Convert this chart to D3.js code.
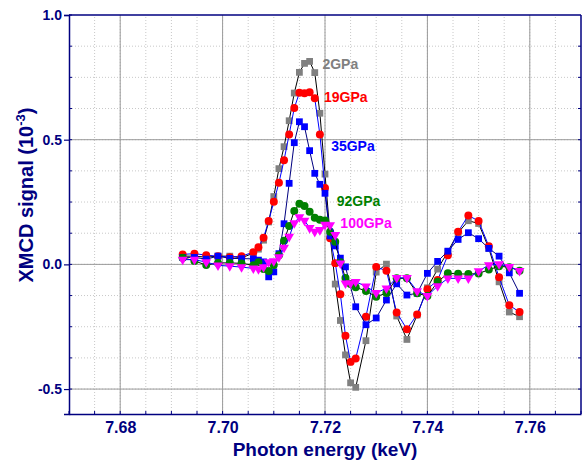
<!DOCTYPE html>
<html>
<head>
<meta charset="utf-8">
<script src="https://cdn.jsdelivr.net/npm/d3@7"></script>
<style>
body { margin: 0; background: #fff; }
text { font-family: Arial, "Liberation Sans", sans-serif; font-weight: bold; }
</style>
</head>
<body>
<div id="chart"></div>
<script>
/* DATA: photon energy (keV) and XMCD signal (10^-3) per pressure */
const energy = [7.6922, 7.6945, 7.6968, 7.6991, 7.7014, 7.7037,
  7.706, 7.707, 7.708, 7.709, 7.710, 7.711, 7.712, 7.713, 7.714, 7.715, 7.716,
  7.717, 7.718, 7.719, 7.720, 7.721, 7.722, 7.723, 7.724, 7.725, 7.726,
  7.728, 7.730, 7.732, 7.734, 7.736, 7.738, 7.740, 7.742, 7.744, 7.746,
  7.748, 7.750, 7.752, 7.754, 7.756, 7.758];

const gpa2 = [0.033, 0.033, 0.029, 0.033, 0.033, 0.026,
  0.045, 0.061, 0.097, 0.170, 0.272, 0.384, 0.472, 0.576, 0.687, 0.770, 0.806,
  0.814, 0.769, 0.606, 0.362, 0.116, -0.079, -0.225, -0.363, -0.475, -0.493,
  -0.306, -0.031, 0.001, -0.207, -0.301, -0.203, -0.094, -0.019, 0.051, 0.127,
  0.175, 0.164, 0.064, -0.070, -0.191, -0.210];

const gpa19 = [0.040, 0.043, 0.037, 0.033, 0.029, 0.033,
  0.049, 0.069, 0.107, 0.174, 0.251, 0.327, 0.418, 0.521, 0.627, 0.688, 0.686,
  0.690, 0.666, 0.521, 0.306, 0.105, 0.005, -0.120, -0.286, -0.391, -0.377,
  -0.210, -0.010, -0.026, -0.193, -0.260, -0.201, -0.100, -0.063, 0.037, 0.131,
  0.196, 0.174, 0.073, -0.052, -0.164, -0.191];

const gpa35 = [0.028, 0.028, 0.021, 0.033, 0.024, 0.023,
  0.022, 0.017, 0.010, -0.050, -0.030, 0.043, 0.163, 0.325, 0.488, 0.572, 0.552,
  0.456, 0.365, 0.321, 0.285, 0.114, 0.074, 0.025, -0.010, null, -0.170,
  -0.242, -0.215, -0.143, -0.078, -0.123, -0.116, -0.036, 0.012, 0.053, 0.100,
  0.127, 0.103, 0.064, 0.033, -0.034, -0.116];

const gpa92 = [0.027, 0.014, -0.003, 0.006, 0.006, 0.004,
  -0.003, 0.009, -0.019, -0.027, -0.003, 0.037, 0.095, 0.154, 0.214, 0.243, 0.234,
  0.211, 0.187, 0.179, 0.176, 0.131, 0.091, 0.009, -0.055, -0.079, -0.092,
  -0.107, -0.130, -0.115, -0.056, -0.056, -0.116, -0.127, -0.070, -0.036, -0.038,
  -0.039, -0.037, -0.021, -0.008, -0.011, -0.026];

const gpa100 = [0.019, 0.019, 0.009, -0.004, -0.007, -0.011,
  -0.016, -0.019, -0.011, 0.009, 0.013, 0.029, 0.067, 0.111, 0.166, 0.190, 0.176,
  0.146, 0.131, 0.138, 0.160, 0.158, 0.118, 0.004, -0.076, -0.076, -0.070,
  -0.088, -0.114, -0.096, -0.054, -0.054, -0.107, -0.126, -0.087, -0.056, -0.056,
  -0.056, -0.027, -0.003, 0.001, -0.010, -0.026];

const seriesNames = ["2GPa", "19GPa", "35GPa", "92GPa", "100GPa"];
const seriesValues = [gpa2, gpa19, gpa35, gpa92, gpa100];
const labelEnergy = [7.7195, 7.7198, 7.7212, 7.7223, 7.7230];
const labelValue = [0.783, 0.651, 0.454, 0.234, 0.146];

const xTicks = [7.68, 7.70, 7.72, 7.74, 7.76];
const yTicks = [-0.5, 0.0, 0.5, 1.0];

/* STYLES */
const markerColor = ["#808080", "#ff0000", "#0000ff", "#008000", "#ff00ff"];
const lineColor = ["#000000", "#0000ff", "#000080", "#000000", "#0000ff"];
const markerShape = [d3.symbolSquare, d3.symbolCircle, d3.symbolSquare, d3.symbolCircle, d3.symbolTriangle];
const markerSize = [46, 50, 46, 50, 42];
const navy = "#000080";

/* CANVAS */
const width = 584;
const height = 460;

const svg = d3.select("#chart")
    .append("svg")
    .attr("width", width)
    .attr("height", height);

const x = d3.scaleLinear().domain([7.67, 7.77]).range([69, 581]);
const y = d3.scaleLinear().domain([-0.6, 1.0]).range([414, 15]);

/* GRID */
const xMinor = d3.range(1, 20).map(i => 7.67 + i * 0.005);
const yMinor = d3.range(-4, 8).map(i => i * 0.125);

svg.append("g").selectAll("line")
    .data(xMinor)
    .join("line")
    .attr("x1", d => x(d)).attr("x2", d => x(d))
    .attr("y1", y(-0.6)).attr("y2", y(1.0))
    .attr("stroke", "#c8c8c8")
    .attr("stroke-dasharray", "1,2");

svg.append("g").selectAll("line")
    .data(yMinor)
    .join("line")
    .attr("x1", x(7.67)).attr("x2", x(7.77))
    .attr("y1", d => y(d)).attr("y2", d => y(d))
    .attr("stroke", "#c8c8c8")
    .attr("stroke-dasharray", "1,2");

svg.append("g").selectAll("line")
    .data(xTicks)
    .join("line")
    .attr("x1", d => x(d)).attr("x2", d => x(d))
    .attr("y1", y(-0.6)).attr("y2", y(1.0))
    .attr("stroke", "#9a9a9a");

svg.append("g").selectAll("line")
    .data(yTicks.slice(0, 3))
    .join("line")
    .attr("x1", x(7.67)).attr("x2", x(7.77))
    .attr("y1", d => y(d)).attr("y2", d => y(d))
    .attr("stroke", "#9a9a9a");

/* SERIES */
seriesValues.forEach(function(vals, k) {
    const pts = energy.map((e, i) => [e, vals[i]]).filter(p => p[1] !== null);

    svg.append("path")
        .datum(pts)
        .attr("fill", "none")
        .attr("stroke", lineColor[k])
        .attr("stroke-width", 1)
        .attr("d", d3.line().x(p => x(p[0])).y(p => y(p[1])));

    svg.append("g").selectAll("path")
        .data(pts)
        .join("path")
        .attr("transform", p => `translate(${x(p[0])},${y(p[1])})` + (k === 4 ? " rotate(180)" : ""))
        .attr("d", d3.symbol().type(markerShape[k]).size(markerSize[k]))
        .attr("fill", markerColor[k]);
});

/* SERIES LABELS */
svg.append("g").selectAll("text")
    .data(seriesNames)
    .join("text")
    .attr("x", (d, i) => x(labelEnergy[i]))
    .attr("y", (d, i) => y(labelValue[i]))
    .attr("fill", (d, i) => markerColor[i])
    .attr("font-size", 14)
    .text(d => d);

/* AXES */
const xAxis = svg.append("g")
    .attr("transform", `translate(0,${y(-0.6)})`)
    .call(d3.axisBottom(x).tickValues(xTicks).tickFormat(d => d.toFixed(2)).tickSize(0).tickPadding(8));

const yAxis = svg.append("g")
    .attr("transform", `translate(${x(7.67)},0)`)
    .call(d3.axisLeft(y).tickValues(yTicks).tickFormat(d => d.toFixed(1)).tickSize(5).tickPadding(2));

[xAxis, yAxis].forEach(function(ax) {
    ax.select(".domain").attr("stroke", navy).attr("stroke-width", 1.5);
    ax.selectAll(".tick line").attr("stroke", navy).attr("stroke-width", 1.2);
    ax.selectAll(".tick text").attr("fill", navy).attr("font-family", "Arial, 'Liberation Sans', sans-serif").attr("font-weight", "bold");
});
xAxis.selectAll(".tick text").attr("font-size", 16);
yAxis.selectAll(".tick text").attr("font-size", 14);

/* top and right spines */
svg.append("line")
    .attr("x1", x(7.67)).attr("x2", x(7.77))
    .attr("y1", y(1.0)).attr("y2", y(1.0))
    .attr("stroke", navy).attr("stroke-width", 1.5);
svg.append("line")
    .attr("x1", x(7.77)).attr("x2", x(7.77))
    .attr("y1", y(1.0)).attr("y2", y(-0.6))
    .attr("stroke", navy).attr("stroke-width", 1.5);

/* inward minor ticks */
svg.append("g").selectAll("line")
    .data(d3.range(0, 21).map(i => 7.67 + i * 0.005))
    .join("line")
    .attr("x1", d => x(d)).attr("x2", d => x(d))
    .attr("y1", y(-0.6)).attr("y2", y(-0.6) - 3)
    .attr("stroke", navy);
svg.append("g").selectAll("line")
    .data(yMinor.concat([1.0]))
    .join("line")
    .attr("x1", x(7.67)).attr("x2", x(7.67) + 3)
    .attr("y1", d => y(d)).attr("y2", d => y(d))
    .attr("stroke", navy);
svg.append("g").selectAll("line")
    .data(yMinor)
    .join("line")
    .attr("x1", x(7.77)).attr("x2", x(7.77) - 3)
    .attr("y1", d => y(d)).attr("y2", d => y(d))
    .attr("stroke", navy);

/* AXIS TITLES */
svg.append("text")
    .attr("x", 325)
    .attr("y", 456)
    .attr("text-anchor", "middle")
    .attr("fill", navy)
    .attr("font-size", 19)
    .text("Photon energy (keV)");

const yTitle = svg.append("text")
    .attr("transform", "translate(33,195) rotate(-90)")
    .attr("text-anchor", "middle")
    .attr("fill", navy)
    .attr("font-size", 20);
yTitle.append("tspan").text("XMCD signal (10");
yTitle.append("tspan").attr("font-size", 13).attr("dy", -8).text("-3");
yTitle.append("tspan").attr("dy", 8).text(")");
</script>
</body>
</html>
